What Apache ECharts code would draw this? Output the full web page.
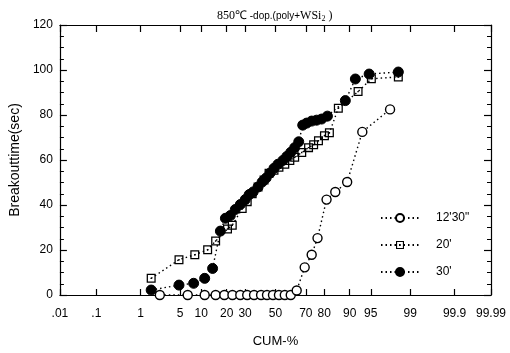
<!DOCTYPE html>
<html><head><meta charset="utf-8">
<script src="https://cdn.jsdelivr.net/npm/echarts@6/dist/echarts.min.js"></script>
<style>html,body{margin:0;padding:0;background:#fff}#c{width:510px;height:353px}</style>
</head><body><div id="c"></div>
<script>
// tick marks of the normal-probability axis (CUM-%)
const tickPercents = [0.01, 0.1, 1, 5, 10, 20, 30, 50, 70, 80, 90, 95, 99, 99.9, 99.99];
const tickLabels = ['.01', '.1', '1', '5', '10', '20', '30', '50', '70', '80', '90', '95', '99', '99.9', '99.99'];
const seriesNames = ["12'30\"", "20'", "30'"];

// 12'30"
const cum1230 = [2.3, 6.5, 11.1, 15.1, 18.9, 22.9, 27.2, 31.3, 35.6, 40.2, 44.2, 48.3, 52.4, 56.4, 60.4, 64.3, 69.3, 73.4, 76.6, 81.1, 84.9, 89.2, 93.3, 97.6];
const val1230 = [0, 0, 0, 0, 0, 0, 0, 0, 0, 0, 0, 0, 0, 0, 0, 2, 12.3, 17.9, 25.3, 42.4, 45.8, 50.2, 72.5, 82.5];

// 20'
const cum20 = [1.6, 4.8, 8.2, 12.1, 15.1, 20.4, 22.8, 28.3, 31.3, 34.4, 38.2, 42.2, 45.6, 49.0, 52.4, 56.4, 59.8, 63.0, 67.5, 71.6, 74.5, 77.1, 80.1, 82.4, 86.1, 92.3, 95.1, 98.3];
const val20 = [7.4, 15.7, 17.9, 20.1, 24.0, 29.3, 31.0, 38.4, 41.5, 45.0, 48.0, 51.1, 54.1, 55.4, 56.8, 58.1, 59.8, 61.2, 63.3, 65.5, 66.8, 68.6, 70.8, 72.1, 83.0, 90.4, 96.1, 96.9];

// 30'
const cum30 = [1.6, 4.8, 7.9, 11.1, 13.9, 17.1, 19.4, 21.8, 24.4, 27.2, 30.1, 32.5, 35.0, 38.2, 40.9, 43.6, 46.3, 49.0, 51.7, 55.1, 57.8, 60.4, 63.0, 65.6, 68.1, 70.5, 73.4, 76.1, 78.7, 81.5, 88.6, 91.6, 94.7, 98.3];
const val30 = [2.2, 4.4, 5.2, 7.4, 11.8, 28.4, 34.1, 35.3, 38.0, 40.2, 42.4, 44.6, 45.8, 48.0, 50.2, 52.0, 54.2, 56.3, 58.1, 59.8, 61.6, 63.4, 65.5, 68.1, 75.5, 76.4, 77.3, 77.7, 78.2, 79.5, 86.4, 96.0, 98.2, 99.1];

// inverse normal CDF (probability-paper scale)
function probit(p) {
  const a = [-3.969683028665376e+01, 2.209460984245205e+02, -2.759285104469687e+02, 1.383577518672690e+02, -3.066479806614716e+01, 2.506628277459239e+00];
  const b = [-5.447609879822406e+01, 1.615858368580409e+02, -1.556989798598866e+02, 6.680131188771972e+01, -1.328068155288572e+01];
  const c = [-7.784894002430293e-03, -3.223964580411365e-01, -2.400758277161838e+00, -2.549732539343734e+00, 4.374664141464968e+00, 2.938163982698783e+00];
  const d = [7.784695709041462e-03, 3.224671290700398e-01, 2.445134137142996e+00, 3.754408661907416e+00];
  const plow = 0.02425;
  let q, r;
  if (p < plow) {
    q = Math.sqrt(-2 * Math.log(p));
    return (((((c[0]*q+c[1])*q+c[2])*q+c[3])*q+c[4])*q+c[5]) / ((((d[0]*q+d[1])*q+d[2])*q+d[3])*q+1);
  } else if (p <= 1 - plow) {
    q = p - 0.5; r = q*q;
    return (((((a[0]*r+a[1])*r+a[2])*r+a[3])*r+a[4])*r+a[5])*q / (((((b[0]*r+b[1])*r+b[2])*r+b[3])*r+b[4])*r+1);
  } else {
    q = Math.sqrt(-2 * Math.log(1 - p));
    return -(((((c[0]*q+c[1])*q+c[2])*q+c[3])*q+c[4])*q+c[5]) / ((((d[0]*q+d[1])*q+d[2])*q+d[3])*q+1);
  }
}
const probitPct = pc => probit(pc / 100);
const tickZ = tickPercents.map(probitPct);
const xMin = probitPct(0.01), xMax = probitPct(99.99);
function labelFor(v) {
  let best = 0;
  for (let i = 1; i < tickZ.length; i++) if (Math.abs(tickZ[i] - v) < Math.abs(tickZ[best] - v)) best = i;
  return tickLabels[best];
}
const pts = (cs, vs) => cs.map((cv, i) => [probitPct(cv), vs[i]]);

const FONT = '"Liberation Sans", Arial, sans-serif';
const mkLine = () => ({ color: '#000', width: 1.4, type: [1.5, 3] });
const squarePath = 'path://M0,0H10V10H0Z M1.4,1.4V8.6H8.6V1.4Z M4.2,4.2H5.8V5.8H4.2Z';
const mkAxisLine = () => ({ show: true, onZero: false, lineStyle: { color: '#000', width: 1.2 } });
const mkXTick = (len) => ({ show: true, inside: true, length: len, customValues: tickZ.slice(), lineStyle: { color: '#000', width: 1.2 } });
const mkYTick = () => ({ show: true, inside: true, length: 7, lineStyle: { color: '#000', width: 1.2 } });
const mkMinor = () => ({ show: true, splitNumber: 4, length: 4, lineStyle: { color: '#000', width: 1 } });

const chart = echarts.init(document.getElementById('c'), null, { renderer: 'canvas' });
chart.setOption({
  animation: false,
  backgroundColor: '#fff',
  title: {
    text: '{a|850℃}{b| -dop.(poly+}{a|WSi}{s|2}{a| )}',
    left: 212, top: 4,
    textStyle: { rich: {
      a: { fontFamily: '"Liberation Serif", serif', fontSize: 12, fontWeight: 'normal', color: '#000' },
      b: { fontFamily: FONT, fontSize: 10, fontWeight: 'normal', color: '#000' },
      s: { fontFamily: '"Liberation Serif", serif', fontSize: 8, fontWeight: 'normal', color: '#000', padding: [6, 0, 0, 0] }
    } }
  },
  legend: {
    orient: 'vertical', left: 375, top: 207, itemGap: 15,
    itemWidth: 38, itemHeight: 10,
    data: seriesNames,
    textStyle: { fontFamily: FONT, fontSize: 12, color: '#000', padding: [0, 0, 0, 12] }
  },
  grid: { left: 56, right: 19, top: 25, bottom: 53 },
  xAxis: [{
    type: 'value', min: xMin, max: xMax, position: 'bottom',
    name: 'CUM-%', nameLocation: 'middle', nameGap: 40,
    nameTextStyle: { fontFamily: FONT, fontSize: 13, color: '#000' },
    axisLine: mkAxisLine(),
    axisTick: mkXTick(6),
    axisLabel: { customValues: tickZ.slice(), formatter: labelFor, margin: 13,
      fontFamily: FONT, fontSize: 12, color: '#000' },
    splitLine: { show: false }
  }, {
    type: 'value', min: xMin, max: xMax, position: 'top',
    axisLine: mkAxisLine(),
    axisTick: mkXTick(7),
    axisLabel: { show: false, customValues: tickZ.slice() }, splitLine: { show: false }
  }],
  yAxis: [{
    type: 'value', min: 0, max: 120, interval: 20, position: 'left',
    name: 'Breakouttime(sec)', nameLocation: 'middle', nameGap: 33,
    nameTextStyle: { fontFamily: FONT, fontSize: 14, color: '#000' },
    axisLine: mkAxisLine(),
    axisTick: mkYTick(),
    minorTick: mkMinor(),
    axisLabel: { fontFamily: FONT, fontSize: 12, color: '#000', margin: 7 },
    splitLine: { show: false }
  }, {
    type: 'value', min: 0, max: 120, interval: 20, position: 'right',
    axisLine: mkAxisLine(),
    axisTick: mkYTick(),
    minorTick: mkMinor(),
    axisLabel: { show: false }, splitLine: { show: false }
  }],
  series: [{
    name: seriesNames[0], type: 'line', data: pts(cum1230, val1230),
    symbol: 'circle', symbolSize: 9, lineStyle: mkLine(),
    itemStyle: { color: '#fff', borderColor: '#000', borderWidth: 1.4 }
  }, {
    name: seriesNames[1], type: 'line', data: pts(cum20, val20),
    symbol: squarePath, symbolSize: 9, lineStyle: mkLine(),
    itemStyle: { color: '#000' }
  }, {
    name: seriesNames[2], type: 'line', data: pts(cum30, val30),
    symbol: 'circle', symbolSize: 10, lineStyle: mkLine(),
    itemStyle: { color: '#000', borderColor: '#000', borderWidth: 1 }
  }]
});
</script>
</body></html>
